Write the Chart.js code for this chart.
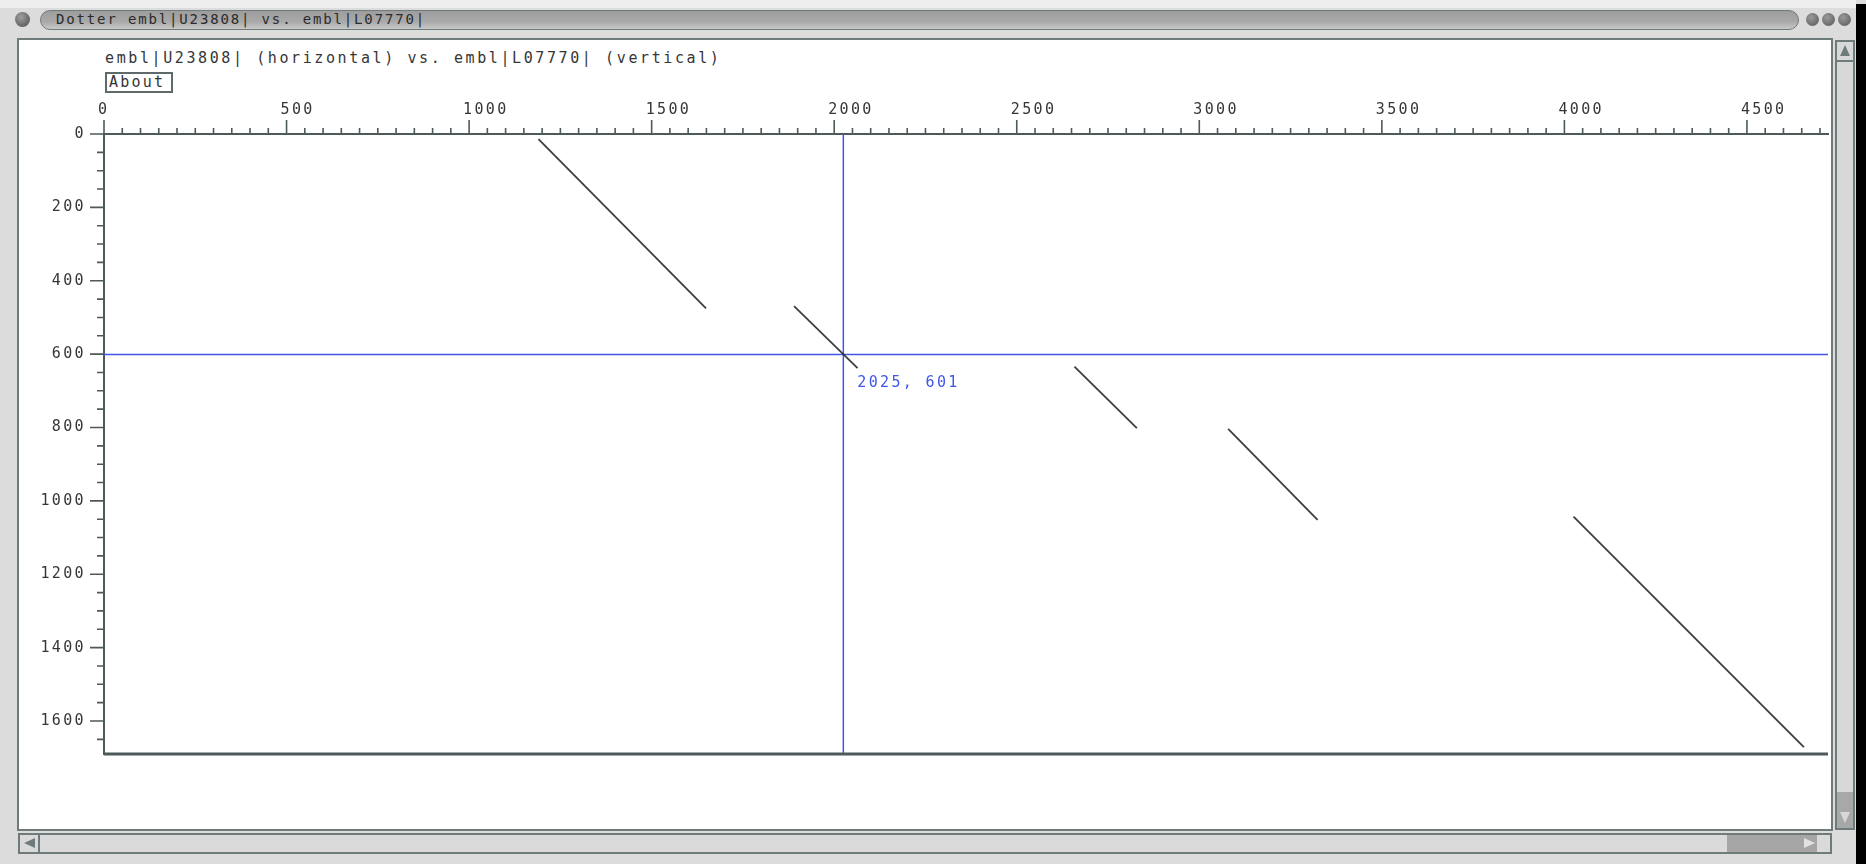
<!DOCTYPE html>
<html>
<head>
<meta charset="utf-8">
<title>Dotter</title>
<script src="https://cdn.jsdelivr.net/npm/chart.js@4.4.1/dist/chart.umd.min.js"></script>
<style>
  body { margin: 0; width: 1866px; height: 864px; overflow: hidden; background: #dcdcdc; position: relative;
         font-family: "DejaVu Sans Mono", "Liberation Mono", monospace; }
  .abs { position: absolute; }
  #topstrip { left: 0; top: 0; width: 1856px; height: 8px; background: #eeeeee; }
  #knob { left: 15px; top: 12px; width: 15px; height: 15px; border-radius: 50%;
          background: radial-gradient(circle at 40% 35%, #a0a0a0, #4a4a4a); }
  #titlebar { left: 40px; top: 10px; width: 1757px; height: 18px; border-radius: 10px;
              background: linear-gradient(#9d9d9d, #a9a9a9 60%, #c9c9c9); border: 1px solid #6f7c7c; }
  #titletext { left: 56px; top: 11px; font-size: 14px; letter-spacing: 1.85px; color: #2b2b2b; }
  .wbtn { top: 13px; width: 13px; height: 13px; border-radius: 50%; background: radial-gradient(circle at 40% 35%, #9a9a9a, #555); }
  #panel { left: 17px; top: 38px; width: 1816px; height: 793px; box-sizing: border-box;
           background: #ffffff; border: 2px solid #6f7b7b; }
  #header { left: 105px; top: 49px; font-size: 15px; letter-spacing: 2.6px; color: #363636; white-space: nowrap; }
  #about { left: 105px; top: 72px; width: 68px; height: 21px; box-sizing: border-box; border: 2px solid #5f6a6a;
           font-size: 15px; letter-spacing: 2.2px; color: #363636; line-height: 17px; padding-left: 2px; }
  #vscroll { left: 1835px; top: 40px; width: 20px; height: 790px; box-sizing: border-box;
             background: #d8d8d8; border: 2px solid #6f7b7b; }
  #vup { left: 1837px; top: 42px; width: 16px; height: 20px; box-sizing: border-box; border-bottom: 2px solid #6f7b7b; }
  #vup::after { content: ""; position: absolute; left: 3px; top: 3px; border-left: 5px solid transparent;
                border-right: 5px solid transparent; border-bottom: 11px solid #6f7b7b; }
  #vdown { left: 1837px; top: 792px; width: 16px; height: 36px; background: #a8a8a8; }
  #vdown::after { content: ""; position: absolute; left: 3px; top: 20px; border-left: 5px solid transparent;
                  border-right: 5px solid transparent; border-top: 11px solid #d8d8d8; }
  #hscroll { left: 18px; top: 833px; width: 1814px; height: 21px; box-sizing: border-box;
             background: #dadada; border: 2px solid #6f7b7b; }
  #hleft { left: 20px; top: 835px; width: 20px; height: 17px; box-sizing: border-box; border-right: 2px solid #6f7b7b; }
  #hleft::after { content: ""; position: absolute; left: 4px; top: 3px; border-top: 5px solid transparent;
                  border-bottom: 5px solid transparent; border-right: 11px solid #6f7b7b; }
  #hthumb { left: 1727px; top: 835px; width: 90px; height: 17px; background: #a6a6a6; }
  #hthumb::after { content: ""; position: absolute; right: 2px; top: 3px; border-top: 5px solid transparent;
                   border-bottom: 5px solid transparent; border-left: 11px solid #e2e2e2; }
  #black { left: 1856px; top: 4px; width: 10px; height: 860px; background: #000; }
  #chart { left: 30px; top: 95px; }
</style>
</head>
<body>
<div class="abs" id="topstrip"></div>
<div class="abs" id="titlebar"></div>
<div class="abs" id="knob"></div>
<div class="abs" id="titletext">Dotter embl|U23808| vs. embl|L07770|</div>
<div class="abs wbtn" style="left:1806px"></div>
<div class="abs wbtn" style="left:1822px"></div>
<div class="abs wbtn" style="left:1838px"></div>
<div class="abs" id="panel"></div>
<div class="abs" id="header">embl|U23808| (horizontal) vs. embl|L07770| (vertical)</div>
<div class="abs" id="about">About</div>
<div class="abs" id="vscroll"></div>
<div class="abs" id="vup"></div>
<div class="abs" id="vdown"></div>
<div class="abs" id="hscroll"></div>
<div class="abs" id="hleft"></div>
<div class="abs" id="hthumb"></div>
<div class="abs" id="black"></div>
<canvas class="abs" id="chart" width="1802" height="664"></canvas>

<script>
// Sequence lengths (axis extents)
const seqLenH = 4722;   // embl|U23808|
const seqLenV = 1690;   // embl|L07770|

// Tick labels
const xTickLabels = [0, 500, 1000, 1500, 2000, 2500, 3000, 3500, 4000, 4500];
const yTickLabels = [0, 200, 400, 600, 800, 1000, 1200, 1400, 1600];
const xMinorStep = 50;
const yMinorStep = 50;

// Diagonal alignment segments
const alignStartX = [1190, 1890, 2658, 3079, 4025];
const alignStartY = [14, 469, 634, 804, 1043];
const alignEndX = [1649, 2064, 2829, 3324, 4656];
const alignEndY = [475, 638, 802, 1052, 1671];

// Crosshair position
const crossX = 2025;
const crossY = 601;

// Where the plot box sits in the window
const plotBox = { left: 104, top: 134, right: 1828, bottom: 754 };

const axisColor = '#4e5a5a';
const textColor = '#363636';
const blue = 'rgb(66, 86, 232)';
const monoFont = { family: '"DejaVu Sans Mono", "Liberation Mono", monospace', size: 15 };

const datasets = alignStartX.map((x0, i) => ({
  label: 'match ' + (i + 1),
  data: [{ x: x0, y: alignStartY[i] }, { x: alignEndX[i], y: alignEndY[i] }],
  showLine: true,
  borderColor: 'rgba(38, 42, 42, 0.9)',
  borderWidth: 1.8,
  pointRadius: 0
}));

datasets.push({
  label: 'cross v',
  data: [{ x: crossX, y: 0 }, { x: crossX, y: seqLenV }],
  showLine: true, borderColor: blue, borderWidth: 1.5, pointRadius: 0
});
datasets.push({
  label: 'cross h',
  data: [{ x: 0, y: crossY }, { x: seqLenH, y: crossY }],
  showLine: true, borderColor: blue, borderWidth: 1.5, pointRadius: 0
});

// Letter spacing for the fixed X font look
const spacing = {
  id: 'spacing',
  beforeUpdate(chart) { chart.ctx.letterSpacing = '2.35px'; },
  beforeDraw(chart) { chart.ctx.letterSpacing = '2.35px'; }
};

// Ruler ticks, bottom frame and crosshair readout
const ruler = {
  id: 'ruler',
  afterDraw(chart) {
    const { ctx, chartArea: a, scales: { x, y } } = chart;
    ctx.save();
    ctx.strokeStyle = axisColor;
    ctx.lineWidth = 1.6;
    ctx.beginPath();
    for (let v = 0; v <= seqLenH; v += xMinorStep) {
      const px = x.getPixelForValue(v);
      const len = xTickLabels.includes(v) ? 14 : 6;
      ctx.moveTo(px, a.top);
      ctx.lineTo(px, a.top - len);
    }
    for (let v = 0; v <= seqLenV; v += yMinorStep) {
      const py = y.getPixelForValue(v);
      const len = yTickLabels.includes(v) ? 14 : 7;
      ctx.moveTo(a.left, py);
      ctx.lineTo(a.left - len, py);
    }
    ctx.stroke();

    ctx.lineWidth = 2.8;
    ctx.beginPath();
    ctx.moveTo(a.left, a.bottom);
    ctx.lineTo(a.right, a.bottom);
    ctx.stroke();

    ctx.letterSpacing = '2.35px';
    ctx.fillStyle = blue;
    ctx.font = '15px ' + monoFont.family;
    ctx.textBaseline = 'middle';
    ctx.fillText(crossX + ', ' + crossY, x.getPixelForValue(crossX) + 14, y.getPixelForValue(crossY) + 29);
    ctx.restore();
  }
};

const canvas = document.getElementById('chart');
const chart = new Chart(canvas, {
  type: 'scatter',
  data: { datasets: datasets },
  options: {
    responsive: false,
    maintainAspectRatio: false,
    animation: false,
    devicePixelRatio: 1,
    layout: { padding: { left: 0, top: 0, right: 4, bottom: 4 } },
    plugins: { legend: { display: false }, tooltip: { enabled: false } },
    scales: {
      x: {
        type: 'linear',
        position: 'top',
        min: 0,
        max: seqLenH,
        afterBuildTicks(scale) { scale.ticks = xTickLabels.map(v => ({ value: v })); },
        afterFit(scale) { scale.height = 39; },
        grid: { drawOnChartArea: false, drawTicks: false },
        border: { color: axisColor, width: 2 },
        ticks: {
          autoSkip: false,
          maxRotation: 0,
          minRotation: 0,
          align: 'start',
          labelOffset: -6,
          padding: 14.5,
          color: textColor,
          font: monoFont,
          callback: v => String(v)
        }
      },
      y: {
        type: 'linear',
        reverse: true,
        min: 0,
        max: seqLenV,
        afterBuildTicks(scale) { scale.ticks = yTickLabels.map(v => ({ value: v })); },
        afterFit(scale) { scale.width = 74; },
        grid: { drawOnChartArea: false, drawTicks: false },
        border: { color: axisColor, width: 2 },
        ticks: {
          autoSkip: false,
          padding: 18,
          color: textColor,
          font: monoFont,
          callback: v => String(v)
        }
      }
    }
  },
  plugins: [spacing, ruler]
});

// Shift and size the canvas so the chart area lands on the plot box
function fitPlot() {
  const a = chart.chartArea;
  const left = plotBox.left - a.left;
  const top = plotBox.top - a.top;
  const w = chart.width + (plotBox.right - (left + a.right));
  const h = chart.height + (plotBox.bottom - (top + a.bottom));
  canvas.style.left = left + 'px';
  canvas.style.top = top + 'px';
  chart.resize(w, h);
}
fitPlot();
fitPlot();
</script>
</body>
</html>
